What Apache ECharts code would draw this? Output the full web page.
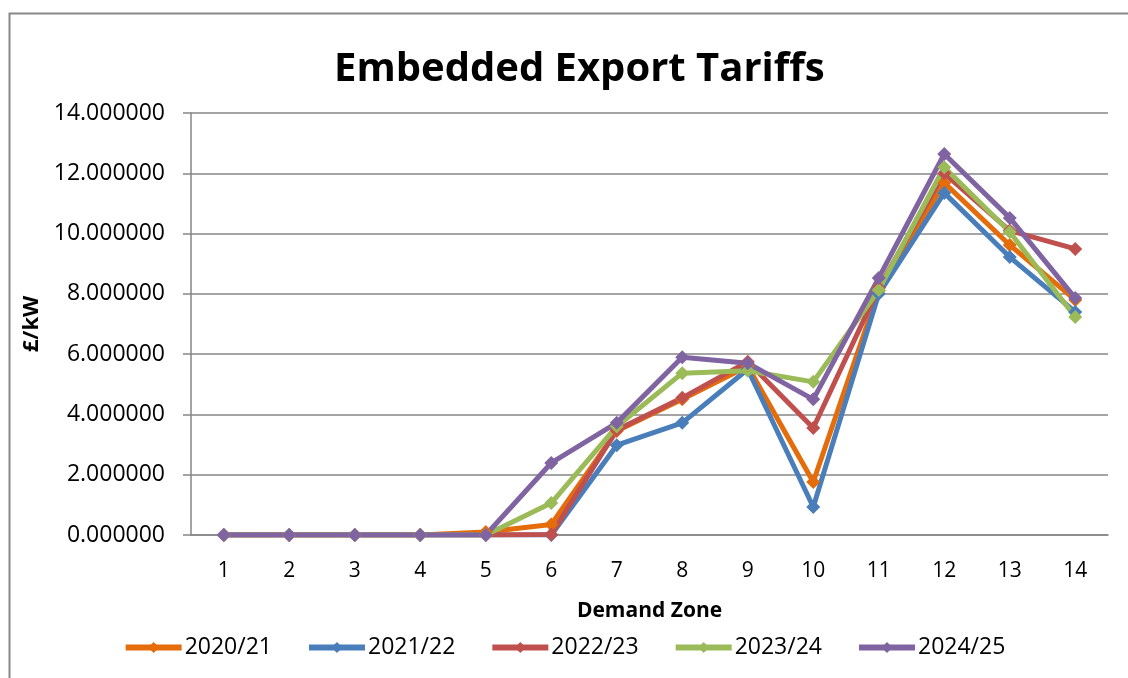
<!DOCTYPE html>
<html lang="en">
<head>
    <meta charset="UTF-8">
    <title>Embedded Export Tariffs</title>
    <script src="https://cdn.jsdelivr.net/npm/echarts@6/dist/echarts.min.js"></script>
    <style>
        * { margin: 0; padding: 0 }
        html, body { width: 100%; height: 100%; background: #fff }
        #main { width: 1128px; height: 678px }
    </style>
</head>
<body>
    <div id="main"></div>
    <script type="text/javascript">
        // demand zones 1..14
        var zones = ['1', '2', '3', '4', '5', '6', '7', '8', '9', '10', '11', '12', '13', '14'];
        var seriesNames = ['2020/21', '2021/22', '2022/23', '2023/24', '2024/25'];
        var colors = ['#E46C0A', '#4A7EBB', '#C0504D', '#9BBB59', '#8064A2'];

        var tariff2020 = [0, 0, 0, 0, 0.10, 0.35, 3.45, 4.50, 5.60, 1.76, 8.10, 11.68, 9.62, 7.80];
        var tariff2021 = [0, 0, 0, 0, 0, 0, 2.98, 3.72, 5.50, 0.93, 8.00, 11.35, 9.22, 7.40];
        var tariff2022 = [0, 0, 0, 0, 0, 0.02, 3.48, 4.55, 5.75, 3.55, 8.20, 12.00, 10.10, 9.49];
        var tariff2023 = [0, 0, 0, 0, 0, 1.06, 3.60, 5.37, 5.45, 5.08, 8.13, 12.20, 10.05, 7.23];
        var tariff2024 = [0, 0, 0, 0, 0, 2.39, 3.72, 5.90, 5.70, 4.50, 8.53, 12.64, 10.52, 7.86];
        var allData = [tariff2020, tariff2021, tariff2022, tariff2023, tariff2024];

        var font = 'Open Sans';
        var myChart = echarts.init(document.getElementById('main'));

        var series = seriesNames.map(function (name, i) {
            return {
                name: name,
                type: 'line',
                data: allData[i],
                symbol: 'diamond',
                symbolSize: 14,
                lineStyle: { width: 5, color: colors[i] },
                itemStyle: { color: colors[i] },
                emphasis: { disabled: true }
            };
        });

        option = {
            animation: false,
            color: colors,
            title: {
                text: 'Embedded Export Tariffs',
                left: 329,
                top: 45,
                textStyle: { fontFamily: font, fontSize: 40, fontWeight: 'bold', color: '#000' }
            },
            graphic: [{
                type: 'rect',
                shape: { x: 9.5, y: 13.5, width: 1130, height: 680 },
                style: { fill: 'none', stroke: '#888', lineWidth: 2 }
            }],
            legend: {
                top: 631,
                left: 'center',
                itemWidth: 56,
                itemHeight: 14,
                itemGap: 34,
                lineStyle: { width: 6 },
                textStyle: { fontFamily: font, fontSize: 23, color: '#000', padding: [0, 0, 0, -2] },
                data: seriesNames
            },
            grid: { left: 191, right: 20, top: 113, bottom: 143 },
            xAxis: {
                type: 'category',
                data: zones,
                name: 'Demand Zone',
                nameLocation: 'middle',
                nameGap: 66,
                nameTextStyle: { fontFamily: font, fontSize: 21, fontWeight: 'bold', color: '#000' },
                axisLine: { lineStyle: { color: '#868686', width: 1.5 } },
                axisTick: { length: 8, lineStyle: { color: '#868686', width: 1.5 } },
                axisLabel: { fontFamily: font, fontSize: 21, color: '#000', margin: 26 }
            },
            yAxis: {
                type: 'value',
                min: 0,
                max: 14,
                interval: 2,
                name: '£/kW',
                nameLocation: 'middle',
                nameGap: 147,
                nameRotate: 90,
                nameTextStyle: { fontFamily: font, fontSize: 22, fontWeight: 'bold', color: '#000' },
                axisLine: { show: true, lineStyle: { color: '#868686', width: 1.5 } },
                axisTick: { show: true, length: 8, lineStyle: { color: '#868686', width: 1.5 } },
                axisLabel: {
                    fontFamily: font, fontSize: 23, color: '#000', margin: 26,
                    formatter: function (v) { return v.toFixed(6); }
                },
                splitLine: { lineStyle: { color: '#868686', width: 1.5 } }
            },
            series: series
        };
        myChart.setOption(option);
    </script>
</body>
</html>
